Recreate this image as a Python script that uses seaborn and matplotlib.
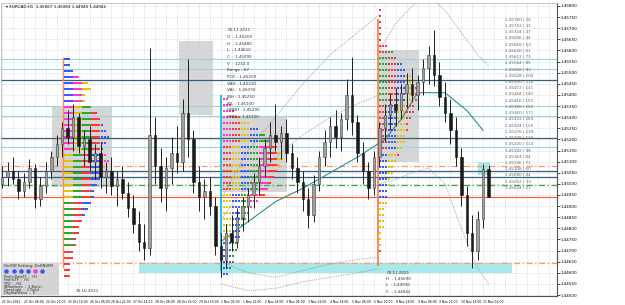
import numpy as np
import pandas as pd
import matplotlib
matplotlib.use("Agg")
import matplotlib.pyplot as plt
import seaborn as sns
from matplotlib.patches import Rectangle

# candles (4h bars), open of bar i = close of bar i-1
first_open = 1.4500
highs = [1.4508, 1.4510, 1.4512, 1.4506, 1.4505, 1.4511, 1.4509, 1.4503, 1.4510, 1.4515,
         1.4522, 1.4528, 1.4533, 1.4536, 1.4532, 1.4524, 1.4526, 1.4518, 1.4519, 1.4510,
         1.4512, 1.4506, 1.4508, 1.4501, 1.4495, 1.4488, 1.4482, 1.4561, 1.4530, 1.4516,
         1.4512, 1.4521, 1.4526, 1.4538, 1.4556, 1.4524, 1.4508, 1.4502, 1.4503, 1.4494,
         1.4478, 1.4482, 1.4486, 1.4489, 1.4494, 1.4498, 1.4505, 1.4512, 1.4520, 1.4528,
         1.4536, 1.4526, 1.4529, 1.4518, 1.4512, 1.4506, 1.4498, 1.4504, 1.4515, 1.4524,
         1.4530, 1.4533, 1.4532, 1.4547, 1.4557, 1.4531, 1.4519, 1.4510, 1.4515, 1.4528,
         1.4536, 1.4541, 1.4543, 1.4545, 1.4550, 1.4552, 1.4549, 1.4556, 1.4562, 1.4569,
         1.4555, 1.4546, 1.4538, 1.4530, 1.4516, 1.4499, 1.4486, 1.4488, 1.4509, 1.45083]
lows = [1.4498, 1.4499, 1.4500, 1.4493, 1.4494, 1.4498, 1.4489, 1.4490, 1.4496, 1.4502,
        1.4508, 1.4512, 1.4518, 1.4515, 1.4514, 1.4508, 1.4506, 1.4502, 1.4498, 1.4496,
        1.4495, 1.4490, 1.4493, 1.4485, 1.4478, 1.4470, 1.4466, 1.4468, 1.4500, 1.4492,
        1.4488, 1.4500, 1.4505, 1.4506, 1.4512, 1.4496, 1.4488, 1.4484, 1.4486, 1.4468,
        1.4458, 1.4462, 1.4470, 1.4471, 1.4479, 1.4483, 1.4489, 1.4495, 1.4503, 1.4510,
        1.4515, 1.4511, 1.4510, 1.4502, 1.4496, 1.4488, 1.4480, 1.4483, 1.4497, 1.4508,
        1.4512, 1.4516, 1.4515, 1.4524, 1.4522, 1.4510, 1.4500, 1.4493, 1.4495, 1.4508,
        1.4519, 1.4524, 1.4526, 1.4529, 1.4534, 1.4537, 1.4533, 1.4540, 1.4545, 1.4544,
        1.4535, 1.4528, 1.4518, 1.4508, 1.4490, 1.4472, 1.4462, 1.4466, 1.4480, 1.44940]
closes = [1.4503, 1.4506, 1.4502, 1.4497, 1.4501, 1.4507, 1.4493, 1.4499, 1.4506, 1.4512,
          1.4518, 1.4525, 1.4521, 1.4530, 1.4517, 1.4520, 1.4510, 1.4514, 1.4503, 1.4506,
          1.4499, 1.4502, 1.4496, 1.4489, 1.4482, 1.4474, 1.4471, 1.4522, 1.4508, 1.4498,
          1.4507, 1.4514, 1.4510, 1.4532, 1.4520, 1.4501, 1.4494, 1.4497, 1.4490, 1.4472,
          1.4466, 1.4478, 1.4474, 1.4485, 1.4490, 1.4495, 1.4501, 1.4508, 1.4516, 1.4522,
          1.4519, 1.4523, 1.4514, 1.4507, 1.4501, 1.4493, 1.4486, 1.4500, 1.4512, 1.4519,
          1.4526, 1.4521, 1.4529, 1.4540, 1.4528, 1.4514, 1.4506, 1.4498, 1.4512, 1.4525,
          1.4531, 1.4536, 1.4533, 1.4541, 1.4545, 1.4540, 1.4546, 1.4552, 1.4558, 1.4549,
          1.4539, 1.4532, 1.4524, 1.4512, 1.4495, 1.4478, 1.4470, 1.4484, 1.45067, 1.44942]

tick_labels = ["21 Oct 2021", "22 Oct 06:00", "22 Oct 22:00", "25 Oct 14:00", "26 Oct 06:00",
               "26 Oct 22:00", "27 Oct 14:00", "28 Oct 06:00", "28 Oct 22:00", "29 Oct 14:00",
               "1 Nov 06:00", "1 Nov 22:00", "2 Nov 14:00", "3 Nov 06:00", "3 Nov 22:00",
               "4 Nov 14:00", "5 Nov 06:00", "5 Nov 22:00", "8 Nov 14:00", "9 Nov 06:00",
               "9 Nov 22:00", "10 Nov 14:00", "11 Nov 06:00"]
price_ticks = [1.4450, 1.4455, 1.4460, 1.4465, 1.4470, 1.4475, 1.4480, 1.4485, 1.4490,
               1.4495, 1.4500, 1.4505, 1.4510, 1.4515, 1.4520, 1.4525, 1.4530, 1.4535,
               1.4540, 1.4545, 1.4550, 1.4555, 1.4560, 1.4565, 1.4570, 1.4575, 1.4580]

# levels
light_levels = [1.45563, 1.45518, 1.45349, 1.45304, 1.45166]
dark_levels = [1.45469, 1.45206, 1.45058, 1.45032]
orange_levels = [1.45081, 1.44645]
green_levels = [1.44996]
bid = 1.44942

# boxes: bar start, bar end, price low, price high
gray_boxes = [(9.1, 20.1, 1.44987, 1.45344), (32.3, 38.6, 1.45310, 1.45640),
              (40.2, 52.1, 1.44965, 1.45300), (69.0, 76.2, 1.45098, 1.45603)]
cyan_boxes = [(25.0, 93.3, 1.44600, 1.44645), (87.1, 89.3, 1.45040, 1.45098)]

# anchored vwap and bands (bar, price)
vwap_x = [40, 45, 50, 55, 60, 65, 70, 73, 76, 81, 85, 88]
vwap_y = [1.4474, 1.4483, 1.4492, 1.4498, 1.4505, 1.4512, 1.4520, 1.4529, 1.4541, 1.4541, 1.4533, 1.4524]
band_x = [40, 45, 50, 55, 60, 65, 69]
up2_y = [1.4493, 1.4515, 1.4530, 1.4545, 1.4558, 1.4568, 1.4576]
up1_y = [1.4484, 1.4500, 1.4512, 1.4522, 1.4530, 1.4536, 1.4540]
lo1_y = [1.4465, 1.4460, 1.4458, 1.4461, 1.4464, 1.4466, 1.4467]
lo2_y = [1.4455, 1.4452, 1.4453, 1.4456, 1.4458, 1.4460, 1.4462]
band2_x = [69, 72, 75, 78, 81, 84, 87, 89]
up2b_y = [1.4560, 1.4572, 1.4580, 1.4585, 1.4578, 1.4568, 1.4558, 1.4553]
lo2b_y = [1.4500, 1.4502, 1.4505, 1.4507, 1.4500, 1.4480, 1.4462, 1.4455]

# TPO profiles: start bar, top price, row widths (letters)
prof_start = [11.4, 40.4, 68.9]
prof_top = [1.45560, 1.45380, 1.45780]
prof_rows = [
    [2, 2, 3, 5, 8, 9, 7, 7, 9, 11, 12, 13, 14, 15, 14, 13, 14, 15, 13, 12, 12, 11, 10,
     10, 9, 8, 7, 6, 5, 5, 4, 4, 3, 3, 2, 2, 2],
    [2, 3, 4, 6, 9, 12, 14, 16, 18, 19, 20, 19, 18, 17, 16, 15, 14, 12, 10, 9, 8, 7, 6,
     6, 5, 5, 4, 4, 3, 2],
    [1, 1, 1, 1, 1, 1, 3, 5, 6, 8, 9, 11, 12, 13, 14, 13, 12, 12, 11, 10, 10, 9, 9, 8,
     7, 6, 5, 5, 4, 4, 3, 3, 3, 2, 2, 2, 2, 1, 1, 1, 1]]
prof_colors = [["#3355ff", "#ff33cc", "#e6c200", "#22aa22", "#ff3333"],
               ["#ff33cc", "#ff3333", "#e6c200", "#3355ff", "#22aa22"],
               ["#ff3333", "#22aa22", "#ff3333", "#3355ff", "#e6c200"]]

right_labels = ["1.45780 | 26", "1.45752 | 31", "1.45724 | 37", "1.45696 | 44", "1.45668 | 52",
                "1.45640 | 61", "1.45612 | 73", "1.45584 | 85", "1.45556 | 92", "1.45528 | 104",
                "1.45500 | 118", "1.45472 | 131", "1.45444 | 140", "1.45416 | 152", "1.45388 | 160",
                "1.45360 | 171", "1.45332 | 163", "1.45304 | 150", "1.45276 | 139", "1.45248 | 126",
                "1.45220 | 114", "1.45192 | 98", "1.45164 | 84", "1.45136 | 71", "1.45108 | 60",
                "1.45080 | 44", "1.45052 | 33", "1.45024 | 21"]
stats_a = ["05.11.2021", "O  : 1.45205", "H  : 1.45480", "L  : 1.44610", "C  : 1.45095",
           "V  : 1232.0", "Range : 87", "POC : 1.45200", "VAH : 1.45310", "VAL : 1.45030",
           "IBH : 1.45250", "IBL : 1.45100", "ORBH : 1.45230", "ORBL : 1.45120"]
stats_b = ["09.11.2021", "H  : 1.45690", "L  : 1.44930", "C  : 1.44942"]
setting_lines = ["ProfileDataTF  :  H1", "ProfileTF  :  H1", "TPO  :  H4",
                 "IBNumbers  :  2 Bar(s)", "OpenLight  :  2 Pip(s)", "DayStartHour  :  0"]

sns.set_theme(style="white")
plt.rcParams['font.family'] = ['DejaVu Sans']

fig = plt.figure(figsize=(6.25, 3.05), dpi=100)
ax = fig.add_axes([1 / 625, 9 / 305, 556 / 625, 293 / 305])
ax.set_xlim(-0.2, 101.5)
ax.set_ylim(1.44496, 1.45813)

# grid
for k in range(0, 102, 2):
    ax.axvline(k, color="#c8c8c8", lw=0.5, ls=(0, (1, 1.5)), zorder=0)
for p in price_ticks:
    ax.axhline(p, color="#c8c8c8", lw=0.5, ls=(0, (1, 1.5)), zorder=0)

for (x0, x1, y0, y1) in gray_boxes:
    ax.add_patch(Rectangle((x0, y0), x1 - x0, y1 - y0, color="#cfcfcf", alpha=0.85, lw=0, zorder=1))
for (x0, x1, y0, y1) in cyan_boxes:
    ax.add_patch(Rectangle((x0, y0), x1 - x0, y1 - y0, color="#a6e8ec", lw=0, zorder=1))

for p in light_levels:
    ax.axhline(p, color="#9ad4e6", lw=0.8, zorder=2)
for p in dark_levels:
    ax.axhline(p, color="#3a5f7a", lw=0.9, zorder=2)
for p in orange_levels:
    ax.axhline(p, color="#ff9966", lw=0.9, ls=(0, (5, 2, 1, 2)), zorder=2)
for p in green_levels:
    ax.axhline(p, color="#33aa55", lw=0.9, ls=(0, (5, 2, 1, 2)), zorder=2)
ax.axhline(bid, color="#ff5533", lw=0.8, zorder=2)

# vertical anchors
ax.vlines(11.2, 1.4462, 1.4557, color="#ff8855", lw=1.0, zorder=3)
ax.vlines(40.0, 1.4461, 1.4540, color="#00b8e6", lw=1.2, zorder=3)
ax.vlines(68.7, 1.4463, 1.4574, color="#ff7744", lw=1.2, zorder=3)

# bands
dotted = dict(color="#909090", lw=0.6, ls=(0, (1, 1.2)), zorder=3)
sns.lineplot(x=band_x, y=up2_y, ax=ax, **dotted)
sns.lineplot(x=band_x, y=up1_y, ax=ax, **dotted)
sns.lineplot(x=band_x, y=lo1_y, ax=ax, **dotted)
sns.lineplot(x=band_x, y=lo2_y, ax=ax, **dotted)
sns.lineplot(x=band2_x, y=up2b_y, ax=ax, **dotted)
sns.lineplot(x=band2_x, y=lo2b_y, ax=ax, **dotted)
sns.lineplot(x=vwap_x, y=vwap_y, ax=ax, color="#2a8f8f", lw=0.8, zorder=3)

# TPO profiles
step = 0.00027
for s, top, rows, cols in zip(prof_start, prof_top, prof_rows, prof_colors):
    for r, n in enumerate(rows):
        y = top - r * step
        for k in range(n):
            c = cols[(k // 3 + r // 8) % len(cols)]
            ax.hlines(y, s + k * 0.55, s + k * 0.55 + 0.45, color=c, lw=1.4, zorder=4)

# candles
opens = [first_open] + closes[:-1]
df = pd.DataFrame({"o": opens, "h": highs, "l": lows, "c": closes})
df["i"] = np.arange(len(df))
ax.vlines(df["i"], df["l"], df["h"], color="#202020", lw=0.7, zorder=5)
up = df[df["c"] >= df["o"]]
dn = df[df["c"] < df["o"]]
ax.bar(up["i"], up["c"] - up["o"], bottom=up["o"], width=0.45, color="#a0a0a0",
       edgecolor="#404040", lw=0.4, zorder=6)
ax.bar(dn["i"], dn["o"] - dn["c"], bottom=dn["c"], width=0.45, color="#1a1a1a",
       edgecolor="#1a1a1a", lw=0.4, zorder=6)

# texts
fs = 3.0
ax.text(0.8, 1.45795, "\u25be EURCAD,H1  1.45067 1.45083 1.44940 1.44942", fontsize=fs,
        va="center", color="black", zorder=7)
for k, t in enumerate(stats_a):
    ax.text(41.2, 1.45690 - k * 0.00030, t, fontsize=fs, va="center", color="#333333", zorder=7)
for k, t in enumerate(stats_b):
    ax.text(70.3, 1.44600 - k * 0.00028, t, fontsize=fs, va="center", color="#333333", zorder=7)
for k, t in enumerate(right_labels):
    ax.text(92.0, 1.45740 - k * 0.00028, t, fontsize=fs, va="center", color="#666666", zorder=7)
ax.text(13.5, 1.44520, "25.10.2021", fontsize=fs, va="center", color="#333333", zorder=7)

ax.add_patch(Rectangle((-0.2, 1.44500), 10.6, 0.00145, color="#d4d4d4", lw=0, zorder=7))
ax.text(0.3, 1.44633, "On/Off Setting: Del(NUM)", fontsize=fs - 0.2, va="center", zorder=8)
for k, c in enumerate(["#3355ff", "#3355ff", "#3355ff", "#3355ff", "#ff33cc", "#3355ff"]):
    ax.plot(0.8 + k * 1.3, 1.44608, "o", ms=2.2, color=c, zorder=8)
for k, t in enumerate(setting_lines):
    ax.text(0.3, 1.44580 - k * 0.00014, t, fontsize=fs - 0.6, va="center", zorder=8)

# axes
ax.yaxis.tick_right()
ax.set_yticks(price_ticks)
ax.set_yticklabels([f"{p:.5f}" for p in price_ticks], fontsize=fs, color="black")
ax.set_xticks(np.arange(0, 4 * len(tick_labels), 4))
ax.set_xticklabels(tick_labels, fontsize=2.2, ha="left", color="black")
ax.tick_params(axis="both", length=2, width=0.5, pad=0.8, colors="black")
for side in ["top", "left"]:
    ax.spines[side].set_color("#b0b0b0")
    ax.spines[side].set_linewidth(0.5)
for side in ["right", "bottom"]:
    ax.spines[side].set_color("#505050")
    ax.spines[side].set_linewidth(0.8)
ax.set_xlabel("")
ax.set_ylabel("")

fig.savefig("out.png", dpi=100)
